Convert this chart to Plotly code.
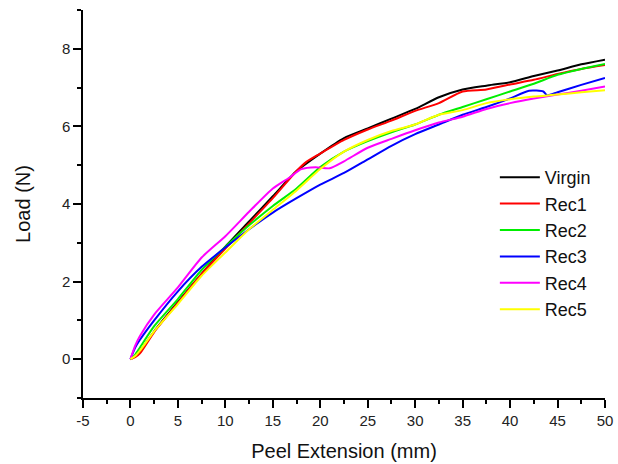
import plotly.graph_objects as go

x_virgin = [0, 0.5, 1, 2.5, 5, 7.5, 10, 12.5, 15, 17.5, 20, 22.5, 25, 27.5, 30, 32.5, 35, 37.5, 40, 42.5, 45, 47.5, 50]
y_virgin = [0, 0.08, 0.2, 0.72, 1.47, 2.2, 2.9, 3.55, 4.2, 4.85, 5.3, 5.7, 5.95, 6.2, 6.45, 6.75, 6.95, 7.05, 7.14, 7.3, 7.44, 7.6, 7.72]

x_rec1 = [0, 0.5, 1, 2.5, 5, 7.5, 10, 12.5, 15, 17.5, 18.5, 20, 22.5, 25, 27.5, 30, 32.5, 35, 37.5, 40, 42.5, 45, 47.5, 50]
y_rec1 = [0, 0.05, 0.15, 0.7, 1.45, 2.2, 2.85, 3.5, 4.15, 4.85, 5.08, 5.3, 5.65, 5.92, 6.15, 6.4, 6.6, 6.9, 6.95, 7.08, 7.2, 7.35, 7.48, 7.58]

x_rec2 = [0, 0.5, 1, 2.5, 5, 7.5, 10, 12.5, 15, 17.5, 20, 22.5, 25, 27.5, 30, 32.5, 35, 37.5, 40, 42.5, 45, 47.5, 50]
y_rec2 = [0, 0.12, 0.3, 0.85, 1.55, 2.3, 2.9, 3.45, 3.95, 4.4, 4.95, 5.35, 5.62, 5.85, 6.05, 6.3, 6.5, 6.7, 6.9, 7.1, 7.33, 7.48, 7.61]

x_rec3 = [0, 0.5, 1, 2.5, 5, 7.5, 10, 12.5, 15, 17.5, 20, 22.5, 25, 27.5, 30, 32.5, 35, 37.5, 40, 42, 43.5, 43.9, 45, 47.5, 50]
y_rec3 = [0, 0.3, 0.5, 1.0, 1.75, 2.38, 2.88, 3.35, 3.78, 4.15, 4.5, 4.8, 5.15, 5.5, 5.8, 6.05, 6.3, 6.5, 6.72, 6.92, 6.9, 6.8, 6.88, 7.07, 7.25]

x_rec4 = [0, 0.5, 1, 2.5, 5, 7.5, 10, 12.5, 15, 16.8, 18, 19.5, 21, 22.5, 25, 27.5, 30, 32.5, 35, 37.5, 40, 42.5, 45, 47.5, 50]
y_rec4 = [0, 0.35, 0.6, 1.15, 1.85, 2.62, 3.17, 3.8, 4.4, 4.69, 4.9, 4.95, 4.92, 5.1, 5.45, 5.68, 5.9, 6.1, 6.25, 6.45, 6.6, 6.72, 6.82, 6.92, 7.03]

x_rec5 = [0, 0.5, 1, 2.5, 5, 7.5, 10, 12.5, 15, 17.5, 20, 22.5, 25, 27.5, 30, 32.5, 35, 37.5, 40, 42.5, 45, 47.5, 50]
y_rec5 = [0, 0.08, 0.22, 0.72, 1.42, 2.15, 2.75, 3.35, 3.85, 4.35, 4.9, 5.35, 5.65, 5.88, 6.05, 6.3, 6.42, 6.6, 6.7, 6.77, 6.82, 6.88, 6.93]

series = [
    ("Virgin", x_virgin, y_virgin, "#000000"),
    ("Rec1", x_rec1, y_rec1, "#ff0000"),
    ("Rec2", x_rec2, y_rec2, "#00ee00"),
    ("Rec3", x_rec3, y_rec3, "#0000ff"),
    ("Rec4", x_rec4, y_rec4, "#ff00ff"),
    ("Rec5", x_rec5, y_rec5, "#ffff00"),
]

x_ticks = [-5, 0, 5, 10, 15, 20, 25, 30, 35, 40, 45, 50]
y_ticks = [0, 2, 4, 6, 8]

FONT = "Liberation Sans, Arial, sans-serif"

fig = go.Figure()
for name, xs, ys, col in series:
    fig.add_trace(go.Scatter(x=xs, y=ys, mode="lines", name=name,
                             line=dict(color=col, width=2, shape="spline", smoothing=0.6)))

axis_common = dict(showgrid=False, zeroline=False, showline=True, linecolor="black", linewidth=1.5,
                   ticks="outside", ticklen=8, tickwidth=1.5, tickcolor="black",
                   tickfont=dict(family=FONT, size=15, color="#222"),
                   mirror=False, automargin=False)

fig.update_xaxes(range=[-5, 50], tickvals=x_ticks, ticktext=[str(v) for v in x_ticks],
                 ticklabeloverflow="allow",
                 minor=dict(dtick=2.5, tick0=-5, ticks="outside", ticklen=4, tickwidth=1.5, tickcolor="black"),
                 title=dict(text="Peel Extension (mm)", font=dict(family=FONT, size=20, color="#111"), standoff=16),
                 **axis_common)
fig.update_yaxes(range=[-1, 9], tickvals=y_ticks, ticktext=[str(v) for v in y_ticks],
                 minor=dict(dtick=1, tick0=-1, ticks="outside", ticklen=4, tickwidth=1.5, tickcolor="black"),
                 title=dict(text="Load (N)", font=dict(family=FONT, size=20, color="#111"), standoff=26),
                 **axis_common)

fig.update_layout(
    width=618, height=464,
    margin=dict(l=83, r=13, t=10, b=66),
    plot_bgcolor="white", paper_bgcolor="white",
    legend=dict(x=0.789, y=0.616, xanchor="left", yanchor="top", bgcolor="rgba(0,0,0,0)",
                font=dict(family=FONT, size=18, color="#111"),
                tracegroupgap=0, itemwidth=40),
)

fig.write_html("out.html", config={"displayModeBar": False},
               post_script="document.body.style.margin='0';document.body.style.overflow='hidden';")
